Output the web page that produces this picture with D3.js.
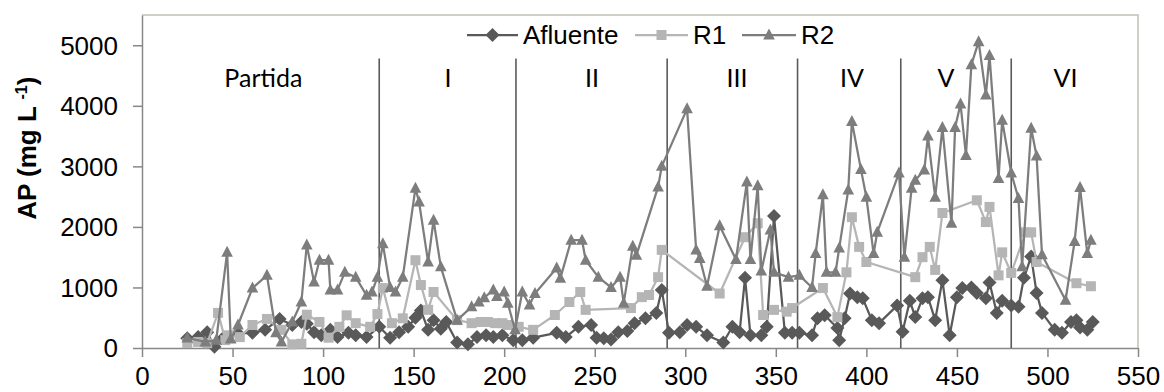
<!DOCTYPE html>
<html>
<head>
<meta charset="utf-8">
<script src="https://cdn.jsdelivr.net/npm/d3@7"></script>
<style>
  body { margin: 0; background: #fff; }
  svg { display: block; }
  text { font-family: "Liberation Sans", Arial, sans-serif; }
</style>
</head>
<body>
<div id="chart"></div>
<script>
// values (day, AP mg/L)
const afluenteDay = [25, 31, 36, 40, 45, 53, 61, 68, 76, 83, 88, 91, 95, 99, 104, 108, 114, 118, 124, 131, 137, 142, 147, 151, 154, 158, 161, 165, 168, 174, 180, 185, 190, 194, 199, 205, 210, 216, 229, 234, 241, 248, 251, 255, 259, 263, 268, 272, 278, 284, 287, 291, 297, 301, 306, 312, 321, 326, 330, 333, 336, 342, 345, 349, 355, 359, 363, 370, 373, 377, 384, 385, 388, 391, 395, 398, 403, 407, 417, 420, 424, 427, 431, 434, 438, 442, 446, 450, 453, 458, 461, 466, 468, 472, 475, 480, 484, 487, 491, 494, 497, 504, 508, 513, 516, 518, 522, 525];
const afluenteVal = [160, 180, 260, 20, 170, 240, 250, 300, 480, 380, 430, 400, 260, 210, 300, 180, 250, 210, 180, 350, 170, 260, 350, 500, 620, 300, 460, 320, 430, 90, 60, 180, 210, 180, 210, 130, 130, 170, 250, 180, 350, 380, 170, 160, 140, 260, 280, 410, 490, 580, 960, 250, 260, 380, 350, 210, 90, 350, 260, 1160, 210, 210, 350, 2180, 250, 250, 250, 210, 490, 540, 330, 130, 490, 900, 840, 820, 460, 410, 700, 270, 780, 510, 820, 840, 460, 1120, 210, 840, 990, 1000, 910, 820, 1080, 580, 780, 700, 680, 1160, 1510, 910, 580, 300, 250, 430, 460, 340, 300, 430];

const r1Day = [25, 31, 36, 42, 46, 48, 54, 61, 69, 77, 83, 88, 91, 98, 103, 109, 113, 118, 126, 130, 133, 138, 144, 151, 154, 158, 161, 174, 182, 187, 191, 195, 199, 202, 208, 216, 228, 236, 242, 245, 270, 276, 280, 285, 287, 319, 333, 340, 343, 349, 356, 359, 376, 384, 389, 392, 396, 400, 427, 431, 435, 438, 442, 461, 466, 468, 473, 475, 480, 488, 491, 494, 516, 524];
const r1Val = [80, 100, 80, 580, 130, 210, 180, 380, 480, 300, 60, 70, 550, 430, 170, 350, 540, 410, 350, 560, 990, 410, 490, 1450, 1040, 630, 925, 460, 410, 430, 430, 410, 410, 380, 350, 300, 545, 760, 925, 630, 660, 840, 875, 1170, 1620, 900, 1830, 2060, 545, 630, 600, 660, 990, 510, 1250, 2160, 1670, 1420, 1170, 1500, 1670, 1290, 2230, 2440, 2080, 2330, 1200, 1580, 1240, 1910, 1910, 1420, 1070, 1020];

const r2Day = [25, 35, 41, 47, 49, 53, 61, 69, 74, 77, 83, 88, 91, 95, 98, 103, 104, 108, 112, 118, 124, 127, 130, 133, 137, 140, 144, 151, 153, 158, 161, 165, 174, 182, 186, 189, 194, 196, 200, 202, 206, 210, 214, 217, 229, 231, 237, 243, 245, 252, 259, 264, 266, 271, 273, 285, 287, 301, 306, 308, 312, 319, 328, 334, 336, 340, 342, 347, 349, 357, 363, 370, 372, 376, 378, 383, 385, 390, 392, 397, 400, 404, 406, 418, 421, 425, 427, 432, 434, 438, 442, 447, 449, 452, 455, 458, 462, 466, 468, 473, 475, 480, 484, 486, 491, 494, 497, 510, 515, 518, 522, 524];
const r2Val = [165, 100, 130, 1580, 150, 380, 990, 1200, 250, 100, 430, 760, 1700, 1090, 1450, 1450, 960, 960, 1250, 1170, 870, 925, 1170, 1720, 1000, 925, 1170, 2640, 2410, 1420, 2110, 1340, 460, 680, 760, 830, 960, 850, 925, 740, 300, 925, 710, 900, 1320, 1150, 1780, 1780, 1450, 1170, 1000, 1170, 740, 1680, 1530, 2660, 3000, 3950, 1620, 1480, 1020, 2020, 1460, 2740, 1460, 2680, 1270, 1950, 1250, 1170, 1200, 1000, 1560, 2530, 1250, 1250, 1650, 2610, 3740, 2950, 2490, 1560, 1910, 2890, 1500, 2640, 2770, 2940, 3500, 2490, 3640, 2060, 3640, 4030, 3180, 4680, 5060, 4180, 4830, 2800, 3760, 2890, 2470, 1340, 3630, 3170, 1540, 790, 1760, 2650, 1560, 1780];

const seriesNames = ['Afluente', 'R1', 'R2'];
const phaseDividers = [131, 206.5, 290, 362, 419, 480];
const phaseLabels = ['Partida', 'I', 'II', 'III', 'IV', 'V', 'VI'];
const phaseLabelDays = [67, 169, 248.5, 328.5, 392, 444, 510];
const xTicks = d3.range(0, 551, 50);
const yTicks = [0, 1000, 2000, 3000, 4000, 5000];

const width = 1164, height = 392;
const margin = {left: 142, right: 26, top: 15, bottom: 44};

const x = d3.scaleLinear().domain([0, 550]).range([margin.left, width - margin.right]);
const y = d3.scaleLinear().domain([0, 5500]).range([height - margin.bottom, margin.top]);

const svg = d3.select('#chart')
  .append('svg')
  .attr('width', width)
  .attr('height', height);

// plot frame (top / right)
svg.append('path')
  .attr('d', `M${x(0)},${y(5500)}H${x(550)}V${y(0)}`)
  .attr('fill', 'none')
  .attr('stroke', '#c4c0b6')
  .attr('stroke-width', 1.5);

const xAxis = svg.append('g')
  .attr('transform', `translate(0,${y(0)})`)
  .call(d3.axisBottom(x).tickValues(xTicks).tickFormat(d3.format('d'))
    .tickSizeInner(9).tickSizeOuter(0).tickPadding(8));
const yAxis = svg.append('g')
  .attr('transform', `translate(${x(0)},0)`)
  .call(d3.axisLeft(y).tickValues(yTicks).tickFormat(d3.format('d'))
    .tickSizeInner(9).tickSizeOuter(0).tickPadding(15));

[xAxis, yAxis].forEach(g => {
  g.select('.domain').attr('stroke', '#888').attr('stroke-width', 1.5);
  g.selectAll('.tick line').attr('stroke', '#888').attr('stroke-width', 1.5);
  g.selectAll('.tick text')
    .attr('fill', '#000')
    .style('font-family', '"Liberation Sans", Arial, sans-serif')
    .style('font-size', '26px');
});
yAxis.selectAll('.tick text').attr('dy', '0.34em');
xAxis.selectAll('.tick text').attr('dy', '0.75em');

// y axis title
const yTitle = svg.append('text')
  .attr('transform', `translate(36,${y(3300)}) rotate(-90)`)
  .attr('text-anchor', 'middle')
  .style('font-size', '26px')
  .style('font-weight', 'bold');
yTitle.append('tspan').text('AP (mg L ');
yTitle.append('tspan').text('-1').attr('dy', -9).style('font-size', '16px');
yTitle.append('tspan').text(')').attr('dy', 9);

// phase dividers and labels
svg.selectAll('line.phase')
  .data(phaseDividers)
  .enter()
  .append('line')
  .attr('class', 'phase')
  .attr('x1', d => x(d)).attr('x2', d => x(d))
  .attr('y1', y(4780)).attr('y2', y(0))
  .attr('stroke', '#5a5a5a')
  .attr('stroke-width', 1.6);

svg.selectAll('text.phase')
  .data(phaseLabels)
  .enter()
  .append('text')
  .attr('class', 'phase')
  .attr('x', (d, i) => x(phaseLabelDays[i]))
  .attr('y', 78)
  .attr('dy', '0.35em')
  .attr('text-anchor', 'middle')
  .style('font-family', 'Lato, "Open Sans", sans-serif')
  .style('font-size', '25px')
  .text(d => d);

// marker shapes
const shapes = {
  Afluente: 'M0,-7L7,0L0,7L-7,0Z',
  R1: 'M-5,-5H5V5H-5Z',
  R2: 'M0,-6.5L5.8,4.5H-5.8Z'
};
const colors = {Afluente: '#595959', R1: '#b5b5b5', R2: '#7d7d7d'};

const seriesData = [
  afluenteDay.map((d, i) => [d, afluenteVal[i]]),
  r1Day.map((d, i) => [d, r1Val[i]]),
  r2Day.map((d, i) => [d, r2Val[i]])
];

const line = d3.line().x(d => x(d[0])).y(d => y(d[1]));

seriesNames.forEach((name, k) => {
  const g = svg.append('g');
  g.append('path')
    .attr('d', line(seriesData[k]))
    .attr('fill', 'none')
    .attr('stroke', colors[name])
    .attr('stroke-width', 2.25)
    .attr('stroke-linejoin', 'round');
  g.selectAll('path.mk')
    .data(seriesData[k])
    .enter()
    .append('path')
    .attr('class', 'mk')
    .attr('d', shapes[name])
    .attr('transform', d => `translate(${x(d[0])},${y(d[1])})`)
    .attr('fill', colors[name]);
});

// legend
const legendX = [467, 635, 742];
const legendLineW = [51, 53, 54];
const legend = svg.append('g');
seriesNames.forEach((name, i) => {
  const lx = legendX[i];
  legend.append('line')
    .attr('x1', lx).attr('x2', lx + legendLineW[i])
    .attr('y1', 35).attr('y2', 35)
    .attr('stroke', colors[name])
    .attr('stroke-width', 2.25);
  legend.append('path')
    .attr('d', shapes[name])
    .attr('transform', `translate(${lx + legendLineW[i] / 2},35)`)
    .attr('fill', colors[name]);
  legend.append('text')
    .attr('x', lx + legendLineW[i] + 5)
    .attr('y', 35)
    .attr('dy', '0.35em')
    .style('font-size', '26px')
    .text(name);
});
</script>
</body>
</html>
